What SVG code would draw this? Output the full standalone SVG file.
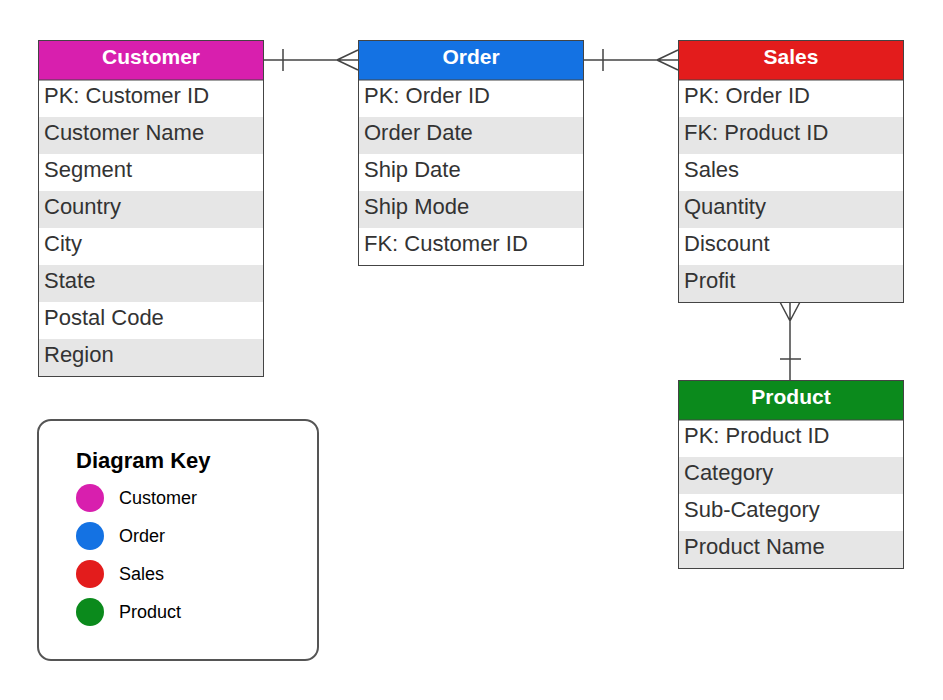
<svg xmlns="http://www.w3.org/2000/svg" width="943" height="700" viewBox="0 0 943 700">
<style>
.hdr{font-family:"Liberation Sans",Arial,sans-serif;font-size:21px;font-weight:bold;fill:#fff;text-anchor:middle}
.row{font-family:"Liberation Sans",Arial,sans-serif;font-size:22px;fill:#333}
.alt{fill:#e6e6e6}
.frame{fill:none;stroke:#444;stroke-width:1}
.conn{fill:none;stroke:#444;stroke-width:1.5}
.kt{font-family:"Liberation Sans",Arial,sans-serif;font-size:18px;fill:#000}
.kh{font-family:"Liberation Sans",Arial,sans-serif;font-size:22px;font-weight:bold;fill:#000}
</style>
<rect width="943" height="700" fill="#fff"/>
<g id="connectors">
<path class="conn" d="M263 60H358M283 49V71M337 60L358 50M337 60L358 60M337 60L358 70"/>
<path class="conn" d="M583 60H678M603 49V71M657 60L678 50M657 60L678 60M657 60L678 70"/>
<path class="conn" d="M790 302V380M780 302L790 321L800 302M780 359H801"/>
</g>
<g id="customer">
<rect x="38" y="40" width="225" height="40" fill="#d81fae"/>
<rect class="alt" x="38" y="117" width="225" height="37"/>
<rect class="alt" x="38" y="191" width="225" height="37"/>
<rect class="alt" x="38" y="265" width="225" height="37"/>
<rect class="alt" x="38" y="339" width="225" height="37"/>
<rect class="frame" x="38.5" y="40.5" width="225" height="336"/>
<line x1="38" y1="80" x2="263" y2="80" stroke="#444"/>
<text class="hdr" x="151" y="64">Customer</text>
<text class="row" x="44" y="103">PK: Customer ID</text>
<text class="row" x="44" y="140">Customer Name</text>
<text class="row" x="44" y="177">Segment</text>
<text class="row" x="44" y="214">Country</text>
<text class="row" x="44" y="251">City</text>
<text class="row" x="44" y="288">State</text>
<text class="row" x="44" y="325">Postal Code</text>
<text class="row" x="44" y="362">Region</text>
</g>
<g id="order">
<rect x="358" y="40" width="225" height="40" fill="#1472e3"/>
<rect class="alt" x="358" y="117" width="225" height="37"/>
<rect class="alt" x="358" y="191" width="225" height="37"/>
<rect class="frame" x="358.5" y="40.5" width="225" height="225"/>
<line x1="358" y1="80" x2="583" y2="80" stroke="#444"/>
<text class="hdr" x="471" y="64">Order</text>
<text class="row" x="364" y="103">PK: Order ID</text>
<text class="row" x="364" y="140">Order Date</text>
<text class="row" x="364" y="177">Ship Date</text>
<text class="row" x="364" y="214">Ship Mode</text>
<text class="row" x="364" y="251">FK: Customer ID</text>
</g>
<g id="sales">
<rect x="678" y="40" width="225" height="40" fill="#e31c1c"/>
<rect class="alt" x="678" y="117" width="225" height="37"/>
<rect class="alt" x="678" y="191" width="225" height="37"/>
<rect class="alt" x="678" y="265" width="225" height="37"/>
<rect class="frame" x="678.5" y="40.5" width="225" height="262"/>
<line x1="678" y1="80" x2="903" y2="80" stroke="#444"/>
<text class="hdr" x="791" y="64">Sales</text>
<text class="row" x="684" y="103">PK: Order ID</text>
<text class="row" x="684" y="140">FK: Product ID</text>
<text class="row" x="684" y="177">Sales</text>
<text class="row" x="684" y="214">Quantity</text>
<text class="row" x="684" y="251">Discount</text>
<text class="row" x="684" y="288">Profit</text>
</g>
<g id="product">
<rect x="678" y="380" width="225" height="40" fill="#0b8a1c"/>
<rect class="alt" x="678" y="457" width="225" height="37"/>
<rect class="alt" x="678" y="531" width="225" height="37"/>
<rect class="frame" x="678.5" y="380.5" width="225" height="188"/>
<line x1="678" y1="420" x2="903" y2="420" stroke="#444"/>
<text class="hdr" x="791" y="404">Product</text>
<text class="row" x="684" y="443">PK: Product ID</text>
<text class="row" x="684" y="480">Category</text>
<text class="row" x="684" y="517">Sub-Category</text>
<text class="row" x="684" y="554">Product Name</text>
</g>
<g id="legend">
<rect x="38" y="420" width="280" height="240" rx="13" fill="#fff" stroke="#555" stroke-width="2"/>
<text class="kh" x="76" y="468">Diagram Key</text>
<circle cx="90" cy="498" r="14" fill="#d81fae"/>
<circle cx="90" cy="536" r="14" fill="#1472e3"/>
<circle cx="90" cy="574" r="14" fill="#e31c1c"/>
<circle cx="90" cy="612" r="14" fill="#0b8a1c"/>
<text class="kt" x="119" y="504">Customer</text>
<text class="kt" x="119" y="542">Order</text>
<text class="kt" x="119" y="580">Sales</text>
<text class="kt" x="119" y="618">Product</text>
</g>
</svg>
